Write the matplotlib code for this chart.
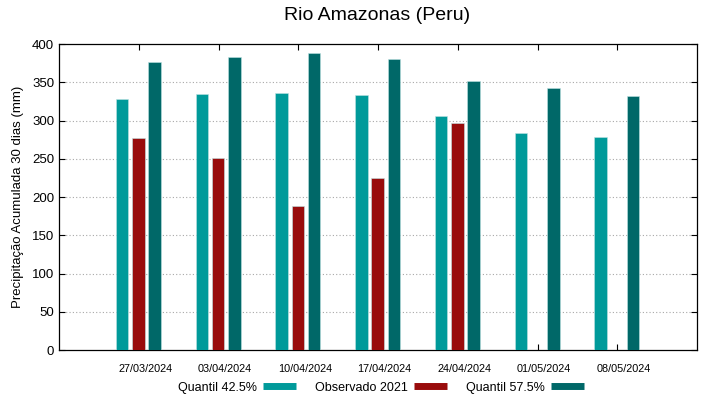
import numpy as np
import matplotlib
matplotlib.use("Agg")
import matplotlib.pyplot as plt
import matplotlib.transforms as mtransforms
from matplotlib.lines import Line2D

plt.rcParams["font.family"] = ["Liberation Sans", "DejaVu Sans"]

dates = ["27/03/2024", "03/04/2024", "10/04/2024", "17/04/2024",
         "24/04/2024", "01/05/2024", "08/05/2024"]
q425 = [328, 334, 336, 333, 306, 284, 278]
obs2021 = [277, 251, 188, 225, 297, np.nan, np.nan]
q575 = [376, 383, 388, 381, 352, 342, 332]

COLORS = {
    "Quantil 42.5%": "#009a9a",
    "Observado 2021": "#990c0c",
    "Quantil 57.5%": "#006868",
}


def main():
    fig = plt.figure(figsize=(7.19, 3.99), dpi=100)
    ax = fig.add_axes([0.0821, 0.1228, 0.8873, 0.7669])

    x = np.arange(len(dates))
    w = 0.156
    series = [("Quantil 42.5%", q425), ("Observado 2021", obs2021), ("Quantil 57.5%", q575)]
    for i, (name, vals) in enumerate(series):
        ax.bar(x + (i - 1) * 0.203 - 0.005, vals, w, color=COLORS[name],
               edgecolor="#bfe3e3", linewidth=0.4, zorder=3)

    ax.set_xlim(-1, 7)
    ax.set_ylim(0, 400)
    ax.set_xticks(x)
    ax.set_xticklabels(dates, fontsize=7.8)
    ax.set_yticks(range(0, 401, 50))
    ax.tick_params(axis="y", labelsize=9.5)
    ax.tick_params(direction="in", top=True, right=True, length=4, width=0.8)
    ax.tick_params(axis="x", pad=10)

    # gnuplot puts the date labels a little to the right of the tick
    shift = mtransforms.ScaledTranslation(6.5 / 100, 0, fig.dpi_scale_trans)
    for tick in ax.xaxis.get_major_ticks():
        tick.label1.set_transform(tick.label1.get_transform() + shift)

    for y in range(50, 400, 50):
        ax.axhline(y, color="#a8a8a8", lw=0.8, ls=(0, (1, 2)), zorder=1)
    for s in ax.spines.values():
        s.set_linewidth(0.9)

    ax.set_ylabel("Precipitação Acumulada 30 dias (mm)", fontsize=9.5, labelpad=6)
    fig.text(0.524, 0.96, "Rio Amazonas (Peru)", ha="center", va="center", fontsize=14)

    handles = [Line2D([0], [0], color=COLORS[n], lw=5, solid_capstyle="butt") for n, _ in series]
    fig.legend(handles, [n for n, _ in series], loc="center", bbox_to_anchor=(0.53, 0.028),
               ncol=3, frameon=False, markerfirst=False, fontsize=9,
               handlelength=2.65, columnspacing=1.5, handletextpad=0.5)

    fig.savefig("out.png", dpi=100)


if __name__ == "__main__":
    main()
